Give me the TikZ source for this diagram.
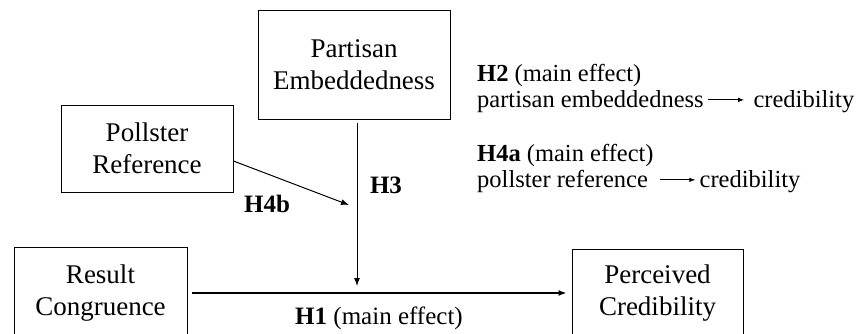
\documentclass[tikz,border=0pt]{standalone}
\usepackage{fontspec}
\setmainfont{Liberation Serif}
\usetikzlibrary{arrows.meta}
\newcommand{\txtarrow}[1]{\tikz[baseline=-0.33em]\draw[line width=0.8pt,-{Latex[length=6pt,width=4.5pt]}] (0,0) -- (#1,0);}
\tikzset{
  box/.style={draw, line width=0.9pt, align=center, inner sep=0pt, font=\fontsize{27}{32}\selectfont},
  lab/.style={font=\fontsize{25}{30}\selectfont\bfseries, inner sep=0pt},
  note/.style={align=left, anchor=north west, inner sep=0pt, font=\fontsize{24.5}{26.5}\selectfont},
  conn/.style={line width=1pt, -{Latex[length=8pt,width=6pt]}},
  mainconn/.style={line width=1.6pt, -{Latex[length=8pt,width=6pt]}}
}
\begin{document}
\begin{tikzpicture}[x=1pt,y=-1pt]
\useasboundingbox (0,0) rectangle (863,334);
\clip (0,0) rectangle (863,334);
\node[box, minimum width=192pt, minimum height=109pt] (pe) at (354,64.5) {Partisan\\Embeddedness};
\node[box, minimum width=172pt, minimum height=87pt] (pr) at (147,148.5) {Pollster\\Reference};
\node[box, minimum width=173pt, minimum height=92pt] (rc) at (100.5,293) {Result\\Congruence};
\node[box, minimum width=171pt, minimum height=88pt] (pc) at (657.5,293) {Perceived\\Credibility};
\coordinate (mod) at (357,286);
\coordinate (h4end) at (349,205);
\draw[mainconn, shorten <=5pt, shorten >=5pt] (rc.east) -- (pc.west);
\draw[conn] (mod |- pe.south) ++(0,4) -- (mod);
\draw[conn] (pr.east |- 0,161) -- (h4end);
\node[lab] (h3) at (386,185) {H3};
\node[lab] (h4b) at (267,204) {H4b};
\node[font=\fontsize{25}{30}\selectfont, inner sep=0pt] (h1) at (379,318) {\textbf{H1} (main effect)};
\node[note] (h2) at (477,64) {\textbf{H2} (main effect)\\partisan embeddedness\hspace{4pt}\txtarrow{36pt}\hspace{9pt}credibility};
\node[note] (h4a) at (477,144) {\textbf{H4a} (main effect)\\pollster reference\hspace{12pt}\txtarrow{35pt}\hspace{4pt}credibility};
\end{tikzpicture}
\end{document}
